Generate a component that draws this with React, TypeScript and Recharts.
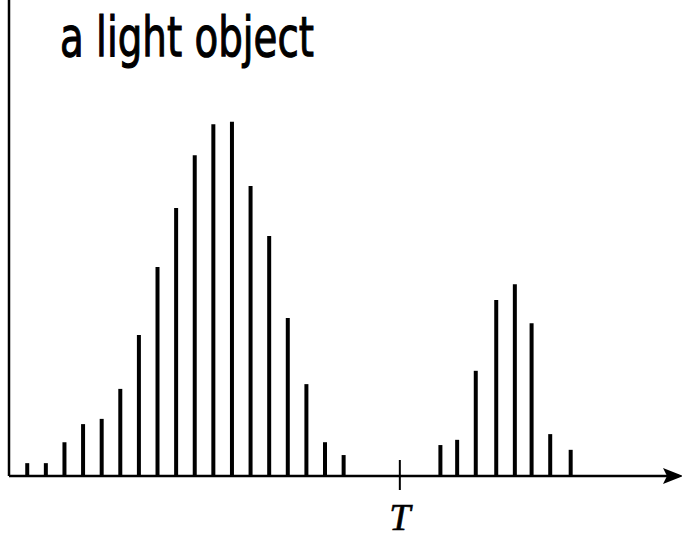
import { BarChart, Bar, XAxis, YAxis, ReferenceDot } from "recharts"

// grey levels (x) and pixel counts (y)
const levels = [
  1, 2, 3, 4, 5, 6, 7, 8, 9, 10, 11, 12, 13, 14, 15, 16, 17, 18,
  23.2, 24.1, 25.1, 26.2, 27.2, 28.1, 29.1, 30.2
]
const counts = [
  2.7, 2.7, 7.1, 10.9, 12.0, 18.3, 29.6, 43.9, 56.3, 67.4, 73.9, 74.4, 60.9,
  50.4, 33.2, 19.3, 7.1, 4.4,
  6.5, 7.6, 22.1, 37.0, 40.3, 32.1, 8.8, 5.5
]
const thresholdTicks = [21]
const thresholdLabels = ["T"]

const data = levels.map((level, i) => ({ level, count: counts[i] }))

function ThresholdTick({ x, y, index }: any) {
  return (
    <g>
      <line x1={x} x2={x} y1={y - 16} y2={y + 14} stroke="#000" strokeWidth={2} />
      <text
        x={x}
        y={y + 54}
        textAnchor="middle"
        fontFamily="'Liberation Serif', serif"
        fontStyle="italic"
        fontSize={38}
        stroke="#000"
        strokeWidth={0.6}
        fill="#000"
      >
        {thresholdLabels[index] ?? "T"}
      </text>
    </g>
  )
}

function Arrow({ cx, cy }: any) {
  return (
    <path
      d={`M ${cx - 16} ${cy - 8} L ${cx + 4} ${cy} L ${cx - 16} ${cy + 8} L ${cx - 12} ${cy} Z`}
      fill="#000"
    />
  )
}

export default function App() {
  return (
    <div style={{ position: "absolute", left: 0, top: 0, width: 682, height: 538, overflow: "hidden", background: "#fff" }}>

      <BarChart
        width={682}
        height={538}
        data={data}
        margin={{ top: 0, right: 3, left: 0, bottom: 0 }}
        barSize={4}
      >
        <XAxis
          dataKey="level"
          type="number"
          domain={[0, 36]}
          ticks={thresholdTicks}
          height={62}
          tickSize={0}
          tickMargin={0}
          tickLine={false}
          tick={<ThresholdTick />}
          axisLine={{ stroke: "#000", strokeWidth: 2.5 }}
        />
        <YAxis
          type="number"
          domain={[0, 100]}
          width={9}
          tick={false}
          tickLine={false}
          axisLine={{ stroke: "#000", strokeWidth: 2.5 }}
        />
        <Bar dataKey="count" fill="#000" isAnimationActive={false} />
        <ReferenceDot x={36} y={0} ifOverflow="visible" shape={<Arrow />} />
      </BarChart>

      <svg width={682} height={80} style={{ position: "absolute", left: 0, top: 0 }}>
        <text
          x={60}
          y={56}
          textLength={254}
          lengthAdjust="spacingAndGlyphs"
          fontFamily="'DejaVu Sans', sans-serif"
          fontSize={56}
          stroke="#000"
          strokeWidth={1.2}
          fill="#000"
        >
          a light object
        </text>
      </svg>

    </div>
  )
}
